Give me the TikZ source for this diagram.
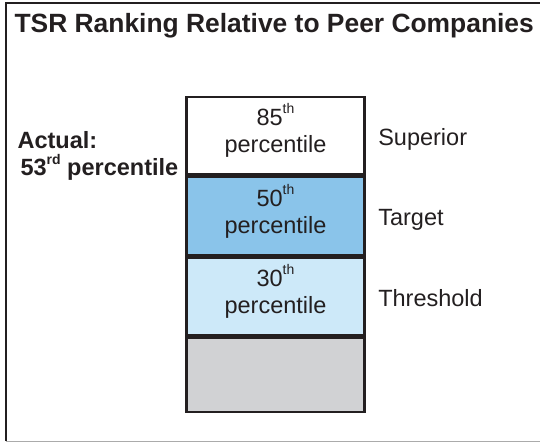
\documentclass[tikz,border=0pt]{standalone}
\usepackage{fontspec}
\setmainfont{Liberation Sans}
\usetikzlibrary{positioning}

\definecolor{ink}{HTML}{231F20}
\definecolor{supfill}{HTML}{FFFFFF}
\definecolor{tgtfill}{HTML}{8AC4EA}
\definecolor{thrfill}{HTML}{CDE9F9}
\definecolor{lowfill}{HTML}{D1D2D4}
\definecolor{rulegray}{HTML}{ABABAB}

\newcommand{\ordsup}[1]{\raisebox{0.5em}{\fontsize{14}{14}\selectfont #1}}

\begin{document}
\begin{tikzpicture}[x=1pt,y=-1pt,node distance=9pt,
		text=ink,font=\fontsize{23.5}{27}\selectfont,
		band/.style={rectangle,draw=ink,line width=2.5pt,minimum width=178pt,inner sep=0pt,align=center,text depth=15pt},
		tier/.style={font=\fontsize{23.5}{27}\selectfont,text height=17pt,text depth=5pt,yshift=-3.5pt},
		bold text/.style={font=\fontsize{23.5}{27}\selectfont\bfseries,anchor=base west}]
	\useasboundingbox (0,0) rectangle (540,443);

	% frame
	\draw[ink,line width=2.5pt] (6,441) -- (6,3) -- (541,3);
	\draw[rulegray,line width=1.5pt] (6,441.5) -- (541,441.5);

	\node[font=\fontsize{26.4}{30}\selectfont\bfseries,anchor=base west] (title) at (11,33) {TSR Ranking Relative to Peer Companies};

	% the column
	\node[band, fill=supfill, minimum height=77pt, anchor=north] (sup) at (275.5,96) {85\ordsup{th}\\percentile};
	\node[band, fill=tgtfill, minimum height=79pt, anchor=north] (tgt) at (sup.south) {50\ordsup{th}\\percentile};
	\node[band, fill=thrfill, minimum height=77pt, anchor=north] (thr) at (tgt.south) {30\ordsup{th}\\percentile};
	\node[band, fill=lowfill, minimum height=74pt, anchor=north] (low) at (thr.south) {};

	\node[tier] (superior) [right=of sup] {Superior};
	\node[tier] (target) [right=of tgt] {Target};
	\node[tier] (threshold) [right=of thr] {Threshold};

	\node[bold text] (actual) at (14,149) {Actual:};
	\node[bold text] (rank) at (17,176) {53\ordsup{rd} percentile};
\end{tikzpicture}
\end{document}
